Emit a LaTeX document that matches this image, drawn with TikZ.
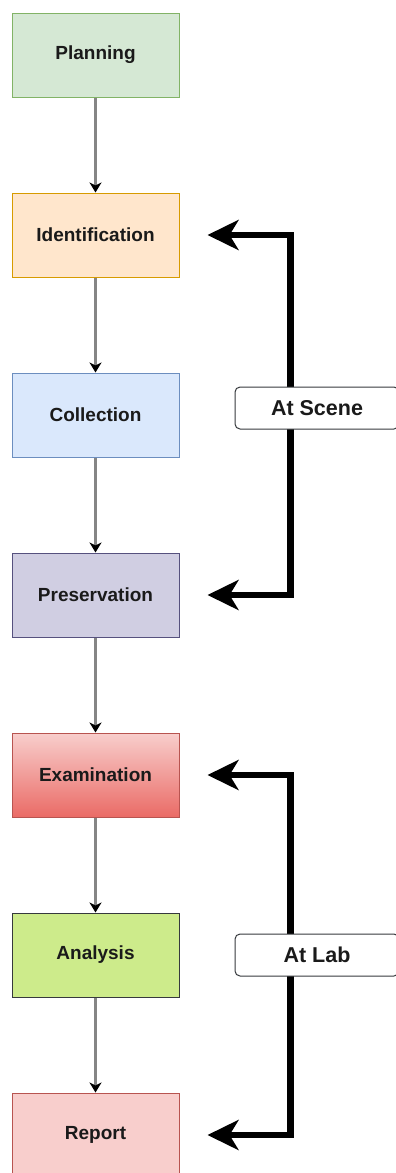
\documentclass[tikz,border=0pt]{standalone}
\usepackage{fontspec}
\setmainfont{Liberation Sans}
\usetikzlibrary{arrows.meta,calc}

\definecolor{planFill}{HTML}{D5E8D4}\definecolor{planLine}{HTML}{82B366}
\definecolor{idFill}{HTML}{FFE6CC}\definecolor{idLine}{HTML}{D79B00}
\definecolor{colFill}{HTML}{DAE8FC}\definecolor{colLine}{HTML}{6C8EBF}
\definecolor{presFill}{HTML}{D0CEE2}\definecolor{presLine}{HTML}{56517E}
\definecolor{examTop}{HTML}{F8CECC}\definecolor{examBot}{HTML}{EA6B66}
\definecolor{redLine}{HTML}{B85450}
\definecolor{anaFill}{HTML}{CDEB8B}\definecolor{anaLine}{HTML}{36393D}
\definecolor{repFill}{HTML}{F8CECC}
\definecolor{flowGray}{HTML}{858585}
\definecolor{txt}{HTML}{1A1A1A}

\begin{document}
\begin{tikzpicture}[x=1pt,y=-1pt,
  stage/.style={draw, line width=1pt, minimum width=167pt, minimum height=84pt,
    inner sep=0pt, font=\fontsize{19}{23}\selectfont\bfseries, text=txt},
  flow/.style={draw=flowGray, line width=2.2pt,
    -{Stealth[length=10pt,width=12pt,inset=3pt,color=black]}},
  bigarrow/.style={line width=6.5pt, line join=miter, line cap=butt,
    {Stealth[length=31pt,width=30pt,inset=9pt]}-{Stealth[length=31pt,width=30pt,inset=9pt]}},
  tag/.style={draw=anaLine, fill=white, line width=1pt, rounded corners=5pt,
    minimum width=164pt, minimum height=42pt, inner sep=0pt,
    font=\fontsize{21.5}{26}\selectfont\bfseries, text=txt}]

\useasboundingbox (0,0) rectangle (396,1173);

% process stages, top to bottom
\node[stage, fill=planFill, draw=planLine] (plan)  at (95.5,55)   {Planning};
\node[stage, fill=idFill,   draw=idLine]   (ident) at (95.5,235)  {Identification};
\node[stage, fill=colFill,  draw=colLine]  (coll)  at (95.5,415)  {Collection};
\node[stage, fill=presFill, draw=presLine] (pres)  at (95.5,595)  {Preservation};
\node[stage, top color=examTop, bottom color=examBot, draw=redLine] (exam) at (95.5,775) {Examination};
\node[stage, fill=anaFill,  draw=anaLine]  (ana)   at (95.5,955)  {Analysis};
\node[stage, fill=repFill,  draw=redLine]  (rep)   at (95.5,1135) {Report};

% sequence connectors
\draw[flow] (plan.south)  -- (ident.north);
\draw[flow] (ident.south) -- (coll.north);
\draw[flow] (coll.south)  -- (pres.north);
\draw[flow] (pres.south)  -- (exam.north);
\draw[flow] (exam.south)  -- (ana.north);
\draw[flow] (ana.south)   -- (rep.north);

% bracket arrows grouping the phases
\coordinate (sA) at ($(ident.east)+(28,0)$);
\coordinate (sB) at ($(pres.east)+(28,0)$);
\coordinate (lA) at ($(exam.east)+(28,0)$);
\coordinate (lB) at ($(rep.east)+(28,0)$);

\draw[bigarrow] (sA) -- ($(sA)+(83,0)$) -- ($(sB)+(83,0)$) -- (sB);
\draw[bigarrow] (lA) -- ($(lA)+(83,0)$) -- ($(lB)+(83,0)$) -- (lB);

\node[tag] (scene) at (317,408) {At Scene};
\node[tag] (lab)   at (317,955) {At Lab};

\end{tikzpicture}
\end{document}
